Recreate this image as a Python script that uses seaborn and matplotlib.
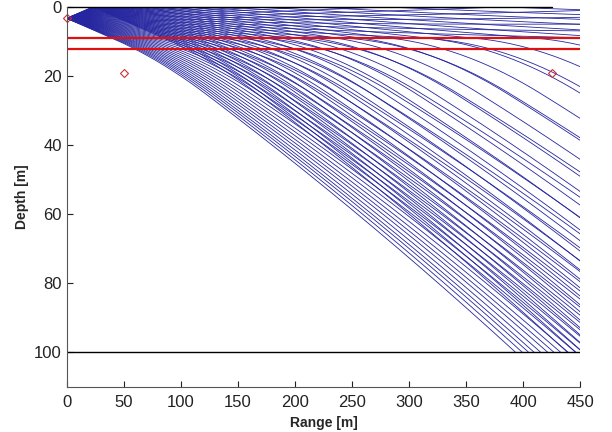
import numpy as np
import pandas as pd
import matplotlib
matplotlib.use('Agg')
import matplotlib.pyplot as plt
import seaborn as sns

# sound speed profile (depth [m], speed [m/s])
ssp_depth = [0.0, 9.0, 25.0, 100.0]
ssp_speed = [1500.0, 1500.3, 1471.0, 1451.0]

source_depth = 3.3
bottom_depth = 100.0
max_range = 450.0
surface_end = 425.0

# launch angles in degrees, positive = downward
launch_angles = [-8.25, -8.0, -7.75, -7.5, -7.25, -7.0, -6.75, -6.5, -6.25, -6.0,
                 -5.75, -5.5, -5.25, -5.0, -4.75, -4.5, -4.25, -4.0, -3.75, -3.5,
                 -3.25, -3.0, -2.75, -2.5, -2.25, -2.0, -1.75, -1.5, -1.25, -1.0,
                 -0.75, -0.5, -0.25, 0.0, 0.25, 0.5, 0.75, 1.0, 1.25, 1.5,
                 1.75, 2.0, 2.25, 2.5, 2.75, 3.0, 3.25, 3.5, 3.75, 4.0,
                 4.25, 4.5, 4.75, 5.0, 5.25, 5.5, 5.75, 6.0, 6.25, 6.5,
                 6.75, 7.0, 7.25, 7.5, 7.75, 8.0, 8.25]

layer_depths = [9.0, 12.2]
marker_range = [0.0, 50.0, 425.0]
marker_depth = [3.3, 19.0, 19.0]


def trace_ray(angle, dx=0.5):
    grad = np.diff(ssp_speed) / np.diff(ssp_depth)
    x, z, th = 0.0, source_depth, np.radians(angle)
    xs, zs = [x], [z]
    while x < max_range:
        c = np.interp(z, ssp_depth, ssp_speed)
        i = min(max(np.searchsorted(ssp_depth, z, side='right') - 1, 0), len(grad) - 1)
        th += -grad[i] / c * dx
        z += np.tan(th) * dx
        x += dx
        if z < 0:
            z, th = -z, -th
        if z >= bottom_depth:
            x -= (z - bottom_depth) / np.tan(th)
            xs.append(x)
            zs.append(bottom_depth)
            break
        xs.append(x)
        zs.append(z)
    return xs, zs


rows = []
for k, a in enumerate(launch_angles):
    xs, zs = trace_ray(a)
    rows.append(pd.DataFrame({'range': xs, 'depth': zs, 'ray': k}))
rays = pd.concat(rows, ignore_index=True)

sns.set_style('ticks')
plt.rcParams['font.family'] = ['Liberation Sans', 'DejaVu Sans']

fig, ax = plt.subplots(figsize=(6.12, 4.32), dpi=100)
fig.subplots_adjust(left=0.109, right=0.948, bottom=0.105, top=0.984)

sns.lineplot(data=rays, x='range', y='depth', units='ray', estimator=None,
             sort=False, color='#2626a0', linewidth=0.6, legend=False, ax=ax)

for d in layer_depths:
    ax.plot([0, max_range], [d, d], color='#e01010', lw=1.6)
ax.plot([0, max_range], [bottom_depth, bottom_depth], color='black', lw=1)
ax.plot([0, surface_end], [0, 0], color='black', lw=1, clip_on=False)
ax.plot(marker_range, marker_depth, linestyle='none', marker='D', ms=4,
        mfc='none', mec='#cc3030', mew=0.8, clip_on=False)

ax.set_xlim(0, max_range)
ax.set_ylim(110, 0)
ax.set_xticks(range(0, 451, 50))
ax.set_yticks(range(0, 101, 20))
ax.tick_params(direction='in', length=4, labelsize=12, colors='#222222')
ax.tick_params(axis='x', pad=6)
sns.despine(ax=ax)
for s in ['left', 'bottom']:
    ax.spines[s].set_color('#555555')
ax.set_xlabel('Range [m]', fontsize=10, fontweight='bold')
ax.set_ylabel('Depth [m]', fontsize=10, fontweight='bold')

fig.savefig('out.png', dpi=100)
